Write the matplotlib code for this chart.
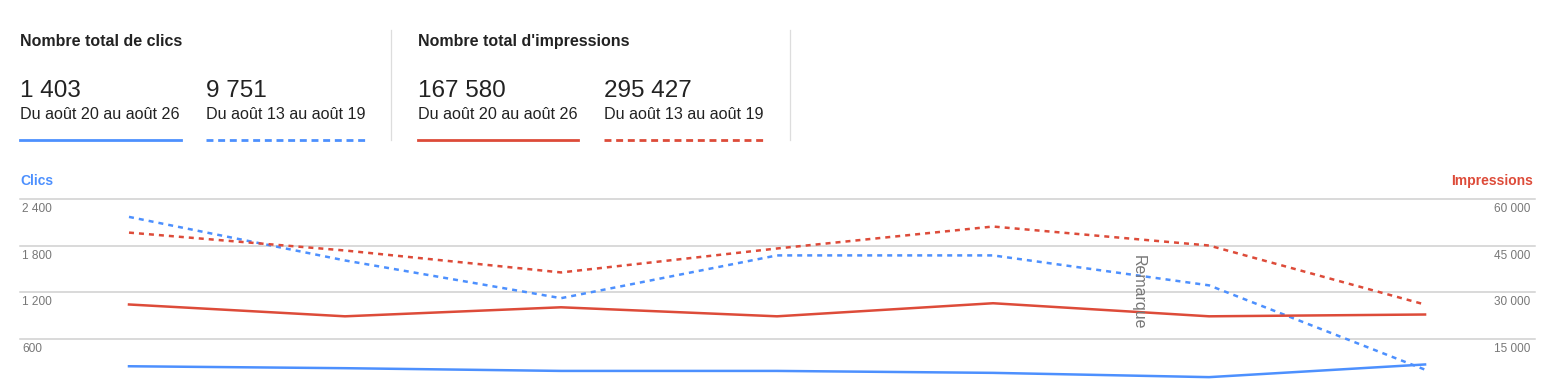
import matplotlib
matplotlib.use("Agg")
import matplotlib.pyplot as plt
import matplotlib.transforms as mtransforms

plt.rcParams['font.family'] = ['Liberation Sans', 'DejaVu Sans']

# ---------------- data ----------------
days = [0, 1, 2, 3, 4, 5, 6]
clics_current = [250, 225, 190, 190, 165, 110, 273]
clics_previous = [2170, 1610, 1125, 1675, 1675, 1290, 206]
impr_current = [26100, 22300, 25200, 22300, 26500, 22300, 22880]
impr_previous = [49200, 43450, 36400, 44100, 51150, 45050, 26077]

clics_ticks = [600, 1200, 1800, 2400]
clics_tick_labels = ["600", "1 200", "1 800", "2 400"]
impr_ticks = [15000, 30000, 45000, 60000]
impr_tick_labels = ["15 000", "30 000", "45 000", "60 000"]

totals = ["1 403", "9 751", "167 580", "295 427"]
periods = ["Du août 20 au août 26", "Du août 13 au août 19",
           "Du août 20 au août 26", "Du août 13 au août 19"]
group_titles = ["Nombre total de clics", "Nombre total d'impressions"]

BLUE = "#4d90fe"
RED = "#dd4b39"
GRID = "#d0d0d0"
TICK = "#777777"

W, H = 1557, 384
fig = plt.figure(figsize=(W / 100, H / 100), dpi=100)


def fx(x):
    return x / W


def fy(y):
    return 1 - y / H


# ---------------- header ----------------
fig.text(fx(20), fy(46), group_titles[0], fontsize=11.5, fontweight='bold',
         color='#222222', va='baseline', ha='left')
fig.text(fx(418), fy(46), group_titles[1], fontsize=11.5, fontweight='bold',
         color='#222222', va='baseline', ha='left')

cols_x = [20, 206, 418, 604]
cols_w = [161, 160, 160, 161]
cols_color = [BLUE, BLUE, RED, RED]
cols_dashed = [False, True, False, True]
for x, w, c, d, tot, per in zip(cols_x, cols_w, cols_color, cols_dashed, totals, periods):
    fig.text(fx(x), fy(97), tot, fontsize=17.5, color='#222222',
             va='baseline', ha='left')
    fig.text(fx(x), fy(119), per, fontsize=11.6, color='#222222',
             va='baseline', ha='left')
    ln = matplotlib.lines.Line2D([fx(x), fx(x + w)], [fy(140), fy(140)],
                                 transform=fig.transFigure, color=c, lw=2.0)
    if d:
        ln.set_dashes((2.5, 1.7))
    fig.add_artist(ln)

for sx in [391, 790]:
    fig.add_artist(matplotlib.lines.Line2D([fx(sx), fx(sx)], [fy(30), fy(140)],
                                           transform=fig.transFigure,
                                           color='#dddddd', lw=0.9))

# ---------------- chart ----------------
left, right = 20, 1535
top, bottom = 199, 385.7
ax = fig.add_axes([fx(left), fy(bottom), fx(right - left), (bottom - top) / H])
ax2 = ax.twinx()
for a in (ax, ax2):
    a.set_axis_off()
    a.set_xlim(-0.5046, 6.509)
ax.set_ylim(0, 2400)
ax2.set_ylim(0, 60000)

for v in clics_ticks:
    ax.axhline(v, color=GRID, lw=1.1, zorder=0, clip_on=False)

ax2.plot(days, impr_previous, color=RED, lw=1.8, dashes=(2.0, 2.0), zorder=3)
ax.plot(days, clics_previous, color=BLUE, lw=1.8, dashes=(2.0, 2.0), zorder=3)
ax2.plot(days, impr_current, color=RED, lw=1.8, zorder=3)
ax.plot(days, clics_current, color=BLUE, lw=1.8, zorder=3)

off = mtransforms.ScaledTranslation(0, -4 / 100, fig.dpi_scale_trans)
tl = mtransforms.blended_transform_factory(ax.transAxes, ax.transData) + off
tr = mtransforms.blended_transform_factory(ax2.transAxes, ax2.transData) + off
for v, lab in zip(clics_ticks, clics_tick_labels):
    ax.text(2 / (right - left), v, lab, transform=tl, fontsize=8.6,
            color=TICK, ha='left', va='top')
for v, lab in zip(impr_ticks, impr_tick_labels):
    ax2.text(1 - 5 / (right - left), v, lab, transform=tr, fontsize=8.5,
             color=TICK, ha='right', va='top')

fig.text(fx(20), fy(185), "Clics", fontsize=10, fontweight='bold',
         color=BLUE, ha='left', va='baseline')
fig.text(fx(1533), fy(185), "Impressions", fontsize=10, fontweight='bold',
         color=RED, ha='right', va='baseline')

fig.text(fx(1138), fy(292), "Remarque", fontsize=11.5, color='#777777',
         rotation=270, ha='center', va='center')

fig.savefig("out.png", dpi=100, facecolor='white')
